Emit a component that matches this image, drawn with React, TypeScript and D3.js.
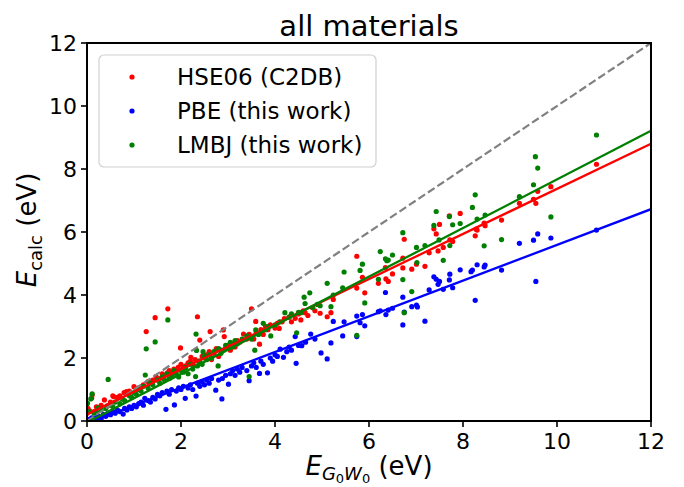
import React from 'react';
import * as d3 from 'd3';

// HSE06 (C2DB) points, [E_G0W0, E_calc]
const hsePoints: [number, number][] = [
  [0.0, 0.25], [0.02, 0.4], [0.05, 0.33], [0.1, 0.73], [0.11, 0.83], [0.15, 0.3], [0.2, 0.45], [0.3, 0.5],
  [0.37, 0.67], [0.43, 0.48], [0.5, 0.6], [0.55, 0.8], [0.57, 0.77], [0.65, 0.75], [0.7, 0.8], [0.79, 0.9],
  [0.84, 0.93], [0.9, 0.95], [1.0, 1.09], [1.05, 1.0], [1.1, 1.05], [1.16, 1.09], [1.2, 1.15], [1.26, 2.84],
  [1.3, 1.25], [1.34, 1.25], [1.4, 1.3], [1.45, 3.28], [1.47, 1.41], [1.55, 1.35], [1.6, 1.5], [1.65, 1.45],
  [1.71, 1.53], [1.72, 3.56], [1.75, 1.6], [1.8, 1.55], [1.85, 1.65], [1.9, 1.6], [1.94, 1.7], [1.99, 2.32],
  [2.0, 1.8], [2.05, 1.7], [2.1, 1.75], [2.15, 1.85], [2.2, 1.9], [2.21, 2.02], [2.25, 1.8], [2.3, 1.95],
  [2.35, 3.31], [2.38, 1.9], [2.4, 2.57], [2.45, 2.05], [2.5, 2.0], [2.55, 2.1], [2.6, 2.2], [2.62, 2.84],
  [2.65, 1.95], [2.7, 2.15], [2.75, 2.3], [2.8, 2.05], [2.85, 2.25], [2.9, 2.89], [2.92, 2.68], [2.95, 2.3],
  [3.0, 2.4], [3.05, 2.25], [3.1, 2.45], [3.15, 2.35], [3.2, 2.55], [3.25, 2.5], [3.33, 2.76], [3.4, 2.6],
  [3.45, 2.75], [3.5, 3.56], [3.55, 2.6], [3.59, 3.16], [3.6, 2.8], [3.67, 2.44], [3.7, 2.9], [3.75, 2.75],
  [3.8, 3.0], [3.85, 2.9], [3.9, 3.05], [4.0, 2.95], [4.05, 3.1], [4.09, 2.94], [4.15, 3.15], [4.2, 3.25],
  [4.3, 3.3], [4.35, 3.15], [4.43, 3.26], [4.5, 3.4], [4.55, 3.21], [4.6, 3.5], [4.64, 3.44], [4.7, 3.35],
  [4.8, 3.6], [4.85, 3.5], [4.96, 3.42], [5.11, 3.31], [5.19, 3.44], [5.24, 3.86], [5.74, 5.23], [5.74, 4.22],
  [5.86, 4.56], [5.91, 4.07], [6.2, 4.37], [6.35, 4.87], [6.36, 4.51], [6.41, 4.43], [6.5, 4.67], [6.72, 5.17],
  [6.75, 5.77], [6.72, 4.86], [6.91, 4.82], [7.01, 4.98], [7.19, 4.91], [7.28, 5.34], [7.38, 6.1], [7.43, 5.94],
  [7.5, 6.24], [7.47, 5.4], [7.58, 5.51], [7.71, 6.51], [7.72, 5.75], [7.78, 5.7], [7.94, 6.59], [8.26, 5.88],
  [8.28, 6.09], [8.3, 6.06], [8.45, 6.28], [8.47, 6.2], [8.82, 6.38], [9.2, 6.91], [9.5, 7.04], [9.55, 6.91],
  [9.59, 7.29], [9.87, 7.44], [10.84, 8.15],
];

// PBE (this work)
const pbePoints: [number, number][] = [
  [0.0, 0.0], [0.05, 0.05], [0.1, 0.1], [0.15, 0.0], [0.2, 0.1], [0.25, 0.15], [0.3, 0.05], [0.35, 0.2],
  [0.4, 0.15], [0.45, 0.25], [0.5, 0.2], [0.55, 0.3], [0.6, 0.25], [0.65, 0.35], [0.7, 0.3], [0.77, 0.22],
  [0.8, 0.4], [0.85, 0.35], [0.9, 0.45], [0.95, 0.4], [1.0, 0.5], [1.05, 0.45], [1.1, 0.55], [1.15, 0.6],
  [1.2, 0.5], [1.23, 0.72], [1.3, 0.65], [1.35, 0.6], [1.4, 0.75], [1.45, 0.7], [1.5, 0.85], [1.55, 0.8],
  [1.6, 0.9], [1.68, 0.37], [1.7, 0.95], [1.75, 0.85], [1.8, 1.0], [1.86, 0.51], [1.9, 0.95], [1.95, 1.05],
  [2.0, 1.0], [2.05, 1.1], [2.09, 0.72], [2.15, 1.05], [2.2, 1.15], [2.25, 1.0], [2.32, 0.79], [2.35, 1.2],
  [2.4, 1.1], [2.45, 1.25], [2.5, 1.15], [2.55, 1.3], [2.6, 1.2], [2.65, 1.35], [2.74, 0.98], [2.8, 1.3],
  [2.87, 0.7], [2.88, 1.35], [2.95, 1.45], [3.01, 1.17], [3.05, 1.5], [3.1, 1.6], [3.15, 1.45], [3.2, 1.65],
  [3.25, 1.55], [3.3, 1.7], [3.4, 1.6], [3.45, 1.28], [3.5, 1.75], [3.55, 1.85], [3.6, 1.7], [3.67, 1.51],
  [3.7, 1.9], [3.75, 1.8], [3.84, 1.53], [3.9, 2.0], [3.95, 1.9], [4.0, 2.1], [4.05, 2.05], [4.11, 2.28],
  [4.18, 2.02], [4.25, 2.2], [4.3, 2.35], [4.35, 2.25], [4.43, 2.68], [4.45, 1.83], [4.5, 2.4], [4.57, 2.39],
  [4.65, 2.5], [4.76, 2.76], [4.85, 2.6], [4.98, 2.16], [5.11, 1.97], [5.19, 2.48], [5.24, 3.16], [5.44, 2.7],
  [5.47, 3.15], [5.74, 3.33], [5.74, 2.68], [5.81, 3.12], [5.86, 3.38], [5.91, 3.02], [6.2, 3.47], [6.24, 3.5],
  [6.35, 4.08], [6.36, 3.38], [6.41, 3.52], [6.5, 3.58], [6.72, 3.93], [6.72, 3.05], [6.75, 3.46], [6.91, 3.63],
  [7.01, 3.68], [7.03, 3.62], [7.19, 3.17], [7.28, 4.16], [7.38, 4.58], [7.43, 4.5], [7.47, 4.34], [7.5, 4.43],
  [7.58, 4.18], [7.71, 4.48], [7.72, 4.66], [7.78, 4.23], [7.94, 4.8], [8.17, 4.74], [8.2, 4.79], [8.26, 3.83],
  [8.3, 4.96], [8.45, 4.89], [8.47, 4.95], [8.82, 4.79], [9.2, 5.64], [9.5, 5.74], [9.55, 4.43], [9.59, 5.94],
  [9.87, 5.81], [10.84, 6.06],
];

// LMBJ (this work)
const lmbjPoints: [number, number][] = [
  [0.0, 0.55], [0.01, 0.56], [0.05, 0.3], [0.08, 0.7], [0.11, 0.86], [0.15, 0.25], [0.2, 0.3], [0.24, 0.42],
  [0.3, 0.35], [0.4, 0.4], [0.45, 1.32], [0.5, 0.5], [0.55, 0.45], [0.6, 0.6], [0.7, 0.55], [0.75, 0.7],
  [0.8, 0.65], [0.9, 0.8], [0.95, 0.75], [1.0, 0.9], [1.05, 0.85], [1.1, 1.0], [1.15, 0.95], [1.2, 1.1],
  [1.24, 1.46], [1.26, 2.29], [1.3, 1.05], [1.35, 1.2], [1.4, 1.15], [1.45, 2.51], [1.5, 1.3], [1.55, 1.2],
  [1.6, 1.4], [1.65, 1.3], [1.7, 1.5], [1.72, 3.21], [1.75, 1.35], [1.8, 1.45], [1.85, 1.6], [1.9, 1.5],
  [1.95, 1.4], [2.0, 1.6], [2.05, 1.55], [2.1, 1.7], [2.15, 1.5], [2.2, 1.8], [2.25, 1.65], [2.31, 1.41],
  [2.32, 2.76], [2.33, 2.24], [2.35, 1.75], [2.4, 1.9], [2.45, 1.8], [2.47, 2.2], [2.5, 2.05], [2.55, 1.95],
  [2.6, 2.1], [2.65, 2.0], [2.7, 2.2], [2.79, 1.75], [2.8, 2.3], [2.85, 2.15], [2.9, 2.25], [2.95, 2.4],
  [3.0, 2.3], [3.05, 2.5], [3.1, 2.35], [3.15, 2.55], [3.2, 2.45], [3.3, 2.6], [3.4, 2.7], [3.45, 1.41],
  [3.5, 2.6], [3.57, 2.25], [3.59, 2.89], [3.65, 2.75], [3.75, 3.1], [3.8, 2.9], [3.85, 3.0], [3.91, 2.7],
  [4.0, 3.05], [4.1, 3.15], [4.21, 3.44], [4.3, 3.3], [4.35, 3.4], [4.46, 2.8], [4.5, 3.45], [4.55, 3.44],
  [4.62, 3.93], [4.64, 3.73], [4.74, 4.07], [4.8, 3.6], [4.9, 3.7], [4.96, 3.66], [5.11, 4.37], [5.24, 4.0],
  [5.19, 3.63], [5.47, 4.73], [5.44, 4.23], [5.74, 2.72], [5.81, 4.78], [5.86, 4.98], [5.91, 3.75], [6.2, 4.5],
  [6.24, 5.38], [6.35, 5.15], [6.38, 5.09], [6.41, 5.11], [6.5, 5.27], [6.72, 5.98], [6.72, 4.49], [6.75, 3.44],
  [6.91, 4.11], [7.01, 5.51], [7.02, 5.03], [7.19, 5.57], [7.38, 6.21], [7.43, 6.65], [7.49, 5.75], [7.58, 5.1],
  [7.71, 6.49], [7.72, 5.57], [7.78, 6.23], [7.94, 6.27], [8.2, 6.78], [8.26, 7.18], [8.3, 6.41], [8.45, 5.56],
  [8.47, 6.54], [8.82, 5.76], [9.2, 7.12], [9.5, 7.5], [9.54, 8.39], [9.59, 8.03], [9.87, 6.48], [10.84, 9.08],
];

const seriesNames = ['HSE06 (C2DB)', 'PBE (this work)', 'LMBJ (this work)'];
const seriesColors = ['#ff0000', '#0000ff', '#008000'];
const seriesPoints = [hsePoints, pbePoints, lmbjPoints];
// linear fits (slope, intercept) per series
const fitSlopes = [0.716, 0.567, 0.772];
const fitIntercepts = [0.21, -0.08, -0.05];
const xTicks = [0, 2, 4, 6, 8, 10, 12];
const yTicks = [0, 2, 4, 6, 8, 10, 12];

const W = 684;
const H = 487;
const left = 87, right = 651, top = 43, bottom = 421;
const FONT = 'DejaVu Sans, sans-serif';

const App = () => {
  const x = d3.scaleLinear().domain([0, 12]).range([left, right]);
  const y = d3.scaleLinear().domain([0, 12]).range([bottom, top]);
  const line = d3.line<[number, number]>().x((d) => x(d[0])).y((d) => y(d[1]));

  return (
    <svg width={W} height={H} style={{ position: 'absolute', left: 0, top: 0 }} fontFamily={FONT}>
      <rect width={W} height={H} fill="#fff" />
      <defs>
        <clipPath id="plot">
          <rect x={left} y={top} width={right - left} height={bottom - top} />
        </clipPath>
      </defs>

      <g clipPath="url(#plot)">
        {seriesPoints.map((pts, i) => (
          <g key={i} fill={seriesColors[i]}>
            {pts.map((d, j) => (
              <circle key={j} cx={x(d[0])} cy={y(d[1])} r={2.6} />
            ))}
          </g>
        ))}
        <path d={line([[0, 0], [12, 12]]) || ''} stroke="#808080" strokeWidth={2.2} strokeDasharray="8,3.4" fill="none" />
        {fitSlopes.map((m, i) => (
          <path
            key={i}
            d={line([[0, fitIntercepts[i]], [12, fitIntercepts[i] + m * 12]]) || ''}
            stroke={seriesColors[i]}
            strokeWidth={2.3}
            fill="none"
          />
        ))}
      </g>

      {/* axes frame */}
      <rect x={left} y={top} width={right - left} height={bottom - top} fill="none" stroke="#000" strokeWidth={2} />

      {xTicks.map((t) => (
        <g key={'x' + t}>
          <line x1={x(t)} x2={x(t)} y1={bottom} y2={bottom + 6} stroke="#000" strokeWidth={1.6} />
          <text x={x(t)} y={bottom + 28} fontSize={22} textAnchor="middle">{t}</text>
        </g>
      ))}
      {yTicks.map((t) => (
        <g key={'y' + t}>
          <line x1={left - 6} x2={left} y1={y(t)} y2={y(t)} stroke="#000" strokeWidth={1.6} />
          <text x={left - 10} y={y(t) + 8} fontSize={22} textAnchor="end">{t}</text>
        </g>
      ))}

      <text x={(left + right) / 2} y={36} fontSize={29} textAnchor="middle">all materials</text>

      <text x={(left + right) / 2} y={475} fontSize={26} textAnchor="middle">
        <tspan fontStyle="italic">E</tspan>
        <tspan fontStyle="italic" fontSize={18} dy={5}>G</tspan>
        <tspan fontSize={13} dy={3}>0</tspan>
        <tspan fontStyle="italic" fontSize={18} dy={-3}>W</tspan>
        <tspan fontSize={13} dy={3}>0</tspan>
        <tspan dy={-8}> (eV)</tspan>
      </text>

      <text transform={`translate(36,230) rotate(-90)`} fontSize={26} textAnchor="middle">
        <tspan fontStyle="italic">E</tspan>
        <tspan fontSize={18} dy={6}>calc</tspan>
        <tspan dy={-6}> (eV)</tspan>
      </text>

      {/* legend */}
      <rect x={99} y={55} width={277} height={112} rx={5} fill="#fff" fillOpacity={0.8} stroke="#d0d0d0" strokeWidth={1.2} />
      {seriesNames.map((name, i) => (
        <g key={name}>
          <circle cx={132} cy={77 + i * 34} r={2.6} fill={seriesColors[i]} />
          <text x={177} y={85 + i * 34} fontSize={23}>{name}</text>
        </g>
      ))}
    </svg>
  );
};

export default App;
